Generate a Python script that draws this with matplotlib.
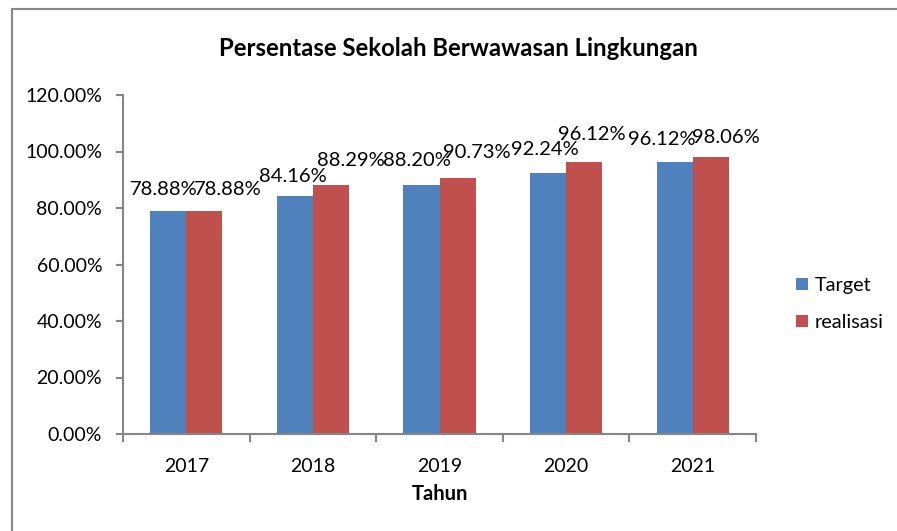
import numpy as np
import matplotlib
matplotlib.use('Agg')
from matplotlib import pyplot as plt
from matplotlib.ticker import PercentFormatter, FixedLocator
from matplotlib.patches import Rectangle

plt.rcParams['font.family'] = ['Lato', 'DejaVu Sans']

# data
tahun = ['2017', '2018', '2019', '2020', '2021']
target = [78.88, 84.16, 88.20, 92.24, 96.12]
realisasi = [78.88, 88.29, 90.73, 96.12, 98.06]

biru = '#4F81BD'
merah = '#C0504D'
abu = '#868686'

# geseran label (piksel) supaya tidak bertumpuk, seperti di Excel
geser_target = [(-5, 16), (-2, 14), (-5, 19), (-3, 18), (-13, 17)]
geser_real = [(23, 16), (20, 19), (19, 20), (8, 22), (15, 14)]

fig = plt.figure(figsize=(8.97, 5.31), dpi=100)
ax = fig.add_axes([123/897, 1 - 434/531, (756 - 123)/897, (434 - 95)/531])

x = np.arange(len(tahun))
w = 0.285
b1 = ax.bar(x - w/2, target, w, color=biru, label='Target')
b2 = ax.bar(x + w/2, realisasi, w, color=merah, label='realisasi')

# label data di atas batang
for bars, vals, gs in [(b1, target, geser_target), (b2, realisasi, geser_real)]:
    for r, v, g in zip(bars, vals, gs):
        ax.annotate('%.2f%%' % v, (r.get_x() + r.get_width()/2, r.get_height()),
                    xytext=g, textcoords='offset pixels',
                    ha='center', va='baseline', fontsize=14.5, color='black')

ax.set_xlim(-0.5, len(tahun) - 0.5)
ax.set_ylim(0, 120)
ax.set_yticks(np.arange(0, 121, 20))
ax.yaxis.set_major_formatter(PercentFormatter(xmax=100, decimals=2))

# tick x di batas kategori, label di tengah
ax.xaxis.set_major_locator(FixedLocator(np.arange(-0.5, len(tahun), 1)))
ax.xaxis.set_minor_locator(FixedLocator(x))
ax.set_xticklabels([], minor=False)
ax.set_xticklabels(tahun, minor=True)
ax.tick_params(axis='x', which='major', direction='out', length=6, width=1.5, color=abu)
ax.tick_params(axis='x', which='minor', length=0, pad=17, labelsize=14)
ax.tick_params(axis='y', direction='out', length=5, width=1.5, color=abu, pad=10, labelsize=14)

for s in ['top', 'right']:
    ax.spines[s].set_visible(False)
for s in ['left', 'bottom']:
    ax.spines[s].set_color(abu)
    ax.spines[s].set_linewidth(1.5)

ax.set_xlabel('Tahun', fontsize=14.5, fontweight='bold', labelpad=7)
fig.text(458/897, 1 - 49/531, 'Persentase Sekolah Berwawasan Lingkungan',
         ha='center', va='center', fontsize=17.2, fontweight='bold')

fig.legend(handles=[b1, b2], loc='center left', bbox_to_anchor=(786/897, 1 - 304/531),
           frameon=False, fontsize=14.3, handlelength=0.6, handleheight=0.6,
           handletextpad=0.35, labelspacing=1.0, borderpad=0)

# bingkai luar
fig.patches.append(Rectangle((12/897, -0.2), 1.2, 1.2 - 9/531,
                             transform=fig.transFigure, fill=False,
                             edgecolor=abu, linewidth=1.5))

fig.savefig('out.png', dpi=100)
